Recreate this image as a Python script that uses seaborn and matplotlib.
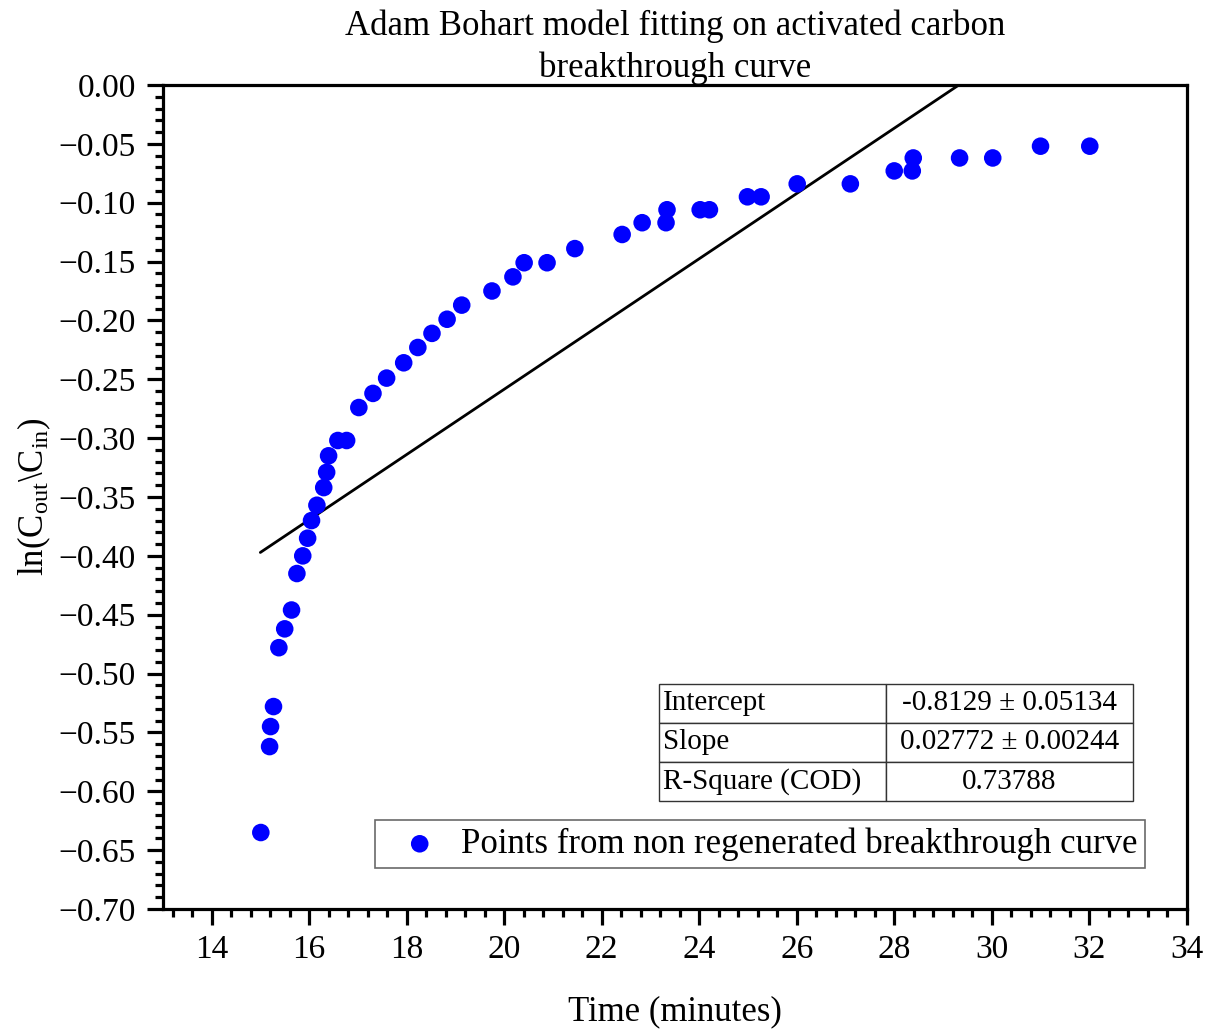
import numpy as np
import pandas as pd
import matplotlib
matplotlib.use("Agg")
import matplotlib.pyplot as plt
from matplotlib.ticker import MultipleLocator, AutoMinorLocator
import seaborn as sns

# ---- data ----
time_min = [15.01, 15.19, 15.21, 15.27, 15.38, 15.50, 15.64, 15.75, 15.87, 15.97,
            16.05, 16.16, 16.30, 16.36, 16.40, 16.59, 16.77, 17.02, 17.31, 17.59,
            17.94, 18.23, 18.52, 18.83, 19.13, 19.75, 20.18, 20.41, 20.88, 21.45,
            22.42, 22.83, 23.32, 23.34, 24.02, 24.21, 24.99, 25.27, 26.01, 27.10,
            28.00, 28.37, 28.39, 29.34, 30.02, 31.00, 32.01]
ln_ratio = [-0.635, -0.562, -0.545, -0.528, -0.478, -0.462, -0.446, -0.415, -0.400, -0.385,
            -0.370, -0.357, -0.342, -0.329, -0.315, -0.302, -0.302, -0.274, -0.262, -0.249,
            -0.236, -0.223, -0.211, -0.199, -0.187, -0.175, -0.163, -0.151, -0.151, -0.139,
            -0.127, -0.117, -0.117, -0.106, -0.106, -0.106, -0.095, -0.095, -0.084, -0.084,
            -0.073, -0.073, -0.062, -0.062, -0.062, -0.052, -0.052]
intercept = -0.8129
slope = 0.02772
fit_range = [15.0, 32.0]
table_rows = ["Intercept", "Slope", "R-Square (COD)"]
table_vals = ["-0.8129 \u00b1 0.05134", "0.02772 \u00b1 0.00244", "0.73788"]

sns.set_theme(style="ticks")
plt.rcParams['font.family'] = ['Liberation Serif', 'DejaVu Serif']
plt.rcParams['mathtext.fontset'] = 'custom'
plt.rcParams['mathtext.rm'] = 'Liberation Serif'
plt.rcParams['mathtext.it'] = 'Liberation Serif:italic'
plt.rcParams['text.color'] = 'black'
plt.rcParams['axes.labelcolor'] = 'black'
plt.rcParams['xtick.color'] = 'black'
plt.rcParams['ytick.color'] = 'black'

fig = plt.figure(figsize=(12.15, 10.35), dpi=100)
ax = fig.add_axes([0.134, 0.1217, 0.8428, 0.7962])

df = pd.DataFrame({"t": time_min, "y": ln_ratio})
sns.scatterplot(data=df, x="t", y="y", ax=ax, color=(0, 0, 1), s=160, edgecolor="none",
                label="Points from non regenerated breakthrough curve", zorder=3)

fx = np.array(fit_range)
fdf = pd.DataFrame({"t": fx, "y": intercept + slope * fx})
sns.lineplot(data=fdf, x="t", y="y", ax=ax, color="black", linewidth=2, zorder=2)

ax.set_xlim(13, 34)
ax.set_ylim(-0.70, 0.0)
ax.xaxis.set_major_locator(MultipleLocator(2))
ax.xaxis.set_minor_locator(AutoMinorLocator(5))
ax.yaxis.set_major_locator(MultipleLocator(0.05))
ax.yaxis.set_minor_locator(AutoMinorLocator(5))
ax.yaxis.set_major_formatter(matplotlib.ticker.FuncFormatter(
    lambda v, p: ("%.2f" % v).replace("-", "\u2212") if abs(v) > 1e-9 else "0.00"))

for s in ax.spines.values():
    s.set_linewidth(2.3)
    s.set_color("black")
ax.tick_params(axis="both", which="major", direction="out", length=11.5, width=2.3,
               labelsize=24, colors="black", top=False, right=False)
ax.tick_params(axis="both", which="minor", direction="out", length=5.7, width=2.3,
               colors="black", top=False, right=False)
ax.tick_params(axis="x", which="major", pad=7)
ax.tick_params(axis="y", which="major", pad=8)

ax.set_xlabel("Time (minutes)", fontsize=25, labelpad=22, color="black")
ax.set_ylabel(r"ln(C$_{\mathrm{out}}$\C$_{\mathrm{in}}$)", fontsize=25, labelpad=4,
              color="black")
ax.set_title("Adam Bohart model fitting on activated carbon\nbreakthrough curve",
             fontsize=25, pad=3, linespacing=1.32, color="black")

leg = ax.legend(loc="lower right", bbox_to_anchor=(0.959, 0.05), borderaxespad=0,
                fontsize=25, frameon=True, fancybox=False, handletextpad=0.1,
                borderpad=0.2, handlelength=2.2, markerscale=1.0)
leg.get_frame().set_edgecolor("#444444")
leg.get_frame().set_linewidth(1.2)
for t in leg.get_texts():
    t.set_color("black")

tbl = ax.table(cellText=[[r, v] for r, v in zip(table_rows, table_vals)],
               cellLoc="center", colWidths=[0.479, 0.521],
               bbox=[0.4844, 0.1311, 0.4629, 0.142])
tbl.auto_set_font_size(False)
tbl.set_fontsize(21)
for (r, c), cell in tbl.get_celld().items():
    cell.set_edgecolor("#333333")
    cell.set_linewidth(1.0)
    cell.get_text().set_color("black")
    cell.get_text().set_va("center")
    if c == 0:
        cell.get_text().set_ha("left")
        cell.PAD = 0.02

fig.savefig("out.png", dpi=100)
